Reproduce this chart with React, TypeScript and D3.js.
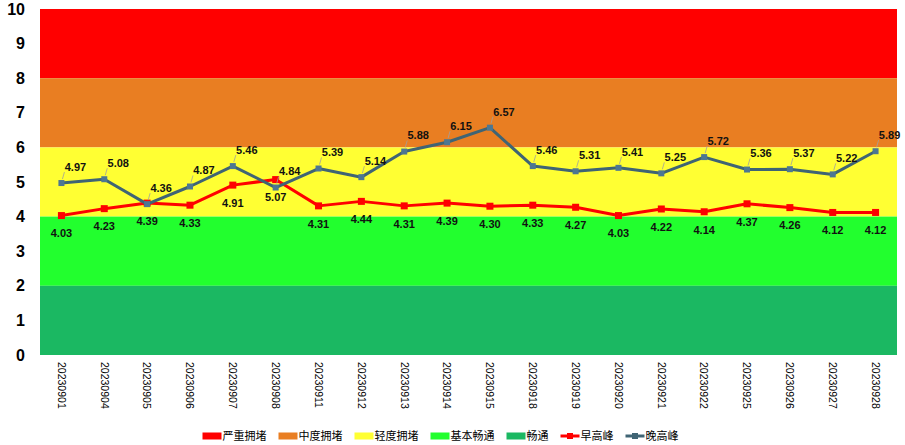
import * as d3 from "d3";

// 日期
const dates = [
  "20230901", "20230904", "20230905", "20230906", "20230907",
  "20230908", "20230911", "20230912", "20230913", "20230914",
  "20230915", "20230918", "20230919", "20230920", "20230921",
  "20230922", "20230925", "20230926", "20230927", "20230928",
];

// 早高峰 / 晚高峰 指数
const morningPeak = [
  4.03, 4.23, 4.39, 4.33, 4.91, 5.07, 4.31, 4.44, 4.31, 4.39,
  4.30, 4.33, 4.27, 4.03, 4.22, 4.14, 4.37, 4.26, 4.12, 4.12,
];
const eveningPeak = [
  4.97, 5.08, 4.36, 4.87, 5.46, 4.84, 5.39, 5.14, 5.88, 6.15,
  6.57, 5.46, 5.31, 5.41, 5.25, 5.72, 5.36, 5.37, 5.22, 5.89,
];

// 拥堵等级区间
const bandNames = ["严重拥堵", "中度拥堵", "轻度拥堵", "基本畅通", "畅通"];
const bandFrom = [8, 6, 4, 2, 0];
const bandTo = [10, 8, 6, 4, 2];
const bandColors = ["#ff0000", "#e97e22", "#ffff33", "#22ff2e", "#1bb862"];

const yTicks = [0, 1, 2, 3, 4, 5, 6, 7, 8, 9, 10];

const W = 905;
const H = 445;
const margin = { top: 9, right: 8, bottom: 90, left: 40 };

const RED = "#ff0000";
const BLUE = "#3f6474";

export default function App() {
  const x = d3
    .scaleBand()
    .domain(dates)
    .range([margin.left, W - margin.right]);
  const cx = (d: string) => (x(d) as number) + x.bandwidth() / 2;
  const y = d3
    .scaleLinear()
    .domain([0, 10])
    .range([H - margin.bottom, margin.top]);

  const line = d3
    .line<number>()
    .x((_, i) => cx(dates[i]))
    .y((v) => y(v));

  // 图例
  const legendItems = [
    ...bandNames.map((n, i) => ({ name: n, color: bandColors[i], kind: "rect" })),
    { name: "早高峰", color: RED, kind: "line" },
    { name: "晚高峰", color: BLUE, kind: "line" },
  ];
  const fs = 11;
  const swatchW = 19;
  const gap = 12;
  const widths = legendItems.map((it) => swatchW + 1 + it.name.length * fs);
  const total = d3.sum(widths) + gap * (legendItems.length - 1);
  let lx = (W - total) / 2 - 12;
  const legendY = 436;
  const legendPos = widths.map((w) => {
    const p = lx;
    lx += w + gap;
    return p;
  });

  const font = "'Liberation Sans', Arial, sans-serif";

  return (
    <svg
      width={W}
      height={H}
      style={{ position: "absolute", left: 0, top: 0, background: "#fff" }}
      fontFamily={font}
    >
      {/* 背景色带 */}
      {bandNames.map((n, i) => (
        <rect
          key={n}
          x={margin.left}
          width={W - margin.left - margin.right}
          y={y(bandTo[i])}
          height={y(bandFrom[i]) - y(bandTo[i])}
          fill={bandColors[i]}
        />
      ))}

      {/* y 轴 */}
      {yTicks.map((t) => (
        <text
          key={t}
          x={25}
          y={y(t)}
          dy="0.35em"
          textAnchor="end"
          fontSize={16}
          fontWeight="bold"
          fill="#000"
        >
          {t}
        </text>
      ))}

      {/* x 轴 */}
      {dates.map((d) => (
        <text
          key={d}
          transform={`translate(${cx(d)},${H - margin.bottom + 7}) rotate(90)`}
          dy="0.35em"
          textAnchor="start"
          fontSize={10.5}
          fill="#000"
        >
          {d}
        </text>
      ))}

      {/* 早高峰 */}
      <path d={line(morningPeak) ?? ""} fill="none" stroke={RED} strokeWidth={3} strokeLinejoin="round" />
      {morningPeak.map((v, i) => (
        <rect key={i} x={cx(dates[i]) - 3.5} y={y(v) - 3.5} width={7} height={7} fill={RED} />
      ))}

      {/* 晚高峰 */}
      <path d={line(eveningPeak) ?? ""} fill="none" stroke={BLUE} strokeWidth={3} strokeLinejoin="round" />
      {eveningPeak.map((v, i) => (
        <rect key={i} x={cx(dates[i]) - 3} y={y(v) - 3} width={6} height={6} fill="#4d7792" />
      ))}

      {/* 数据标签 */}
      {morningPeak.map((v, i) => (
        <text
          key={i}
          x={cx(dates[i])}
          y={y(v) + 18}
          dy="0.35em"
          textAnchor="middle"
          fontSize={11}
          fontWeight="bold"
          fill="#111"
        >
          {v.toFixed(2)}
        </text>
      ))}
      {eveningPeak.map((v, i) => {
        const px = cx(dates[i]);
        const py = y(v);
        return (
          <g key={i}>
            <line x1={px + 1} y1={py - 4} x2={px + 3} y2={py - 11} stroke="#a0a0a0" strokeWidth={0.8} />
            <text
              x={px + 14}
              y={py - 16}
              dy="0.35em"
              textAnchor="middle"
              fontSize={11}
              fontWeight="bold"
              fill="#111"
            >
              {v.toFixed(2)}
            </text>
          </g>
        );
      })}

      {/* 图例 */}
      {legendItems.map((it, i) => {
        const p = legendPos[i];
        return (
          <g key={it.name}>
            {it.kind === "rect" ? (
              <rect x={p} y={legendY - 3.5} width={swatchW} height={7} fill={it.color} />
            ) : (
              <g>
                <line x1={p} x2={p + swatchW} y1={legendY} y2={legendY} stroke={it.color} strokeWidth={3} />
                <rect x={p + swatchW / 2 - 3} y={legendY - 3} width={6} height={6} fill={it.color} />
              </g>
            )}
            <text
              x={p + swatchW + 1}
              y={legendY}
              dy="0.35em"
              fontSize={fs}
              fontFamily="'Noto Sans CJK SC', sans-serif"
              fill="#000"
            >
              {it.name}
            </text>
          </g>
        );
      })}
    </svg>
  );
}
